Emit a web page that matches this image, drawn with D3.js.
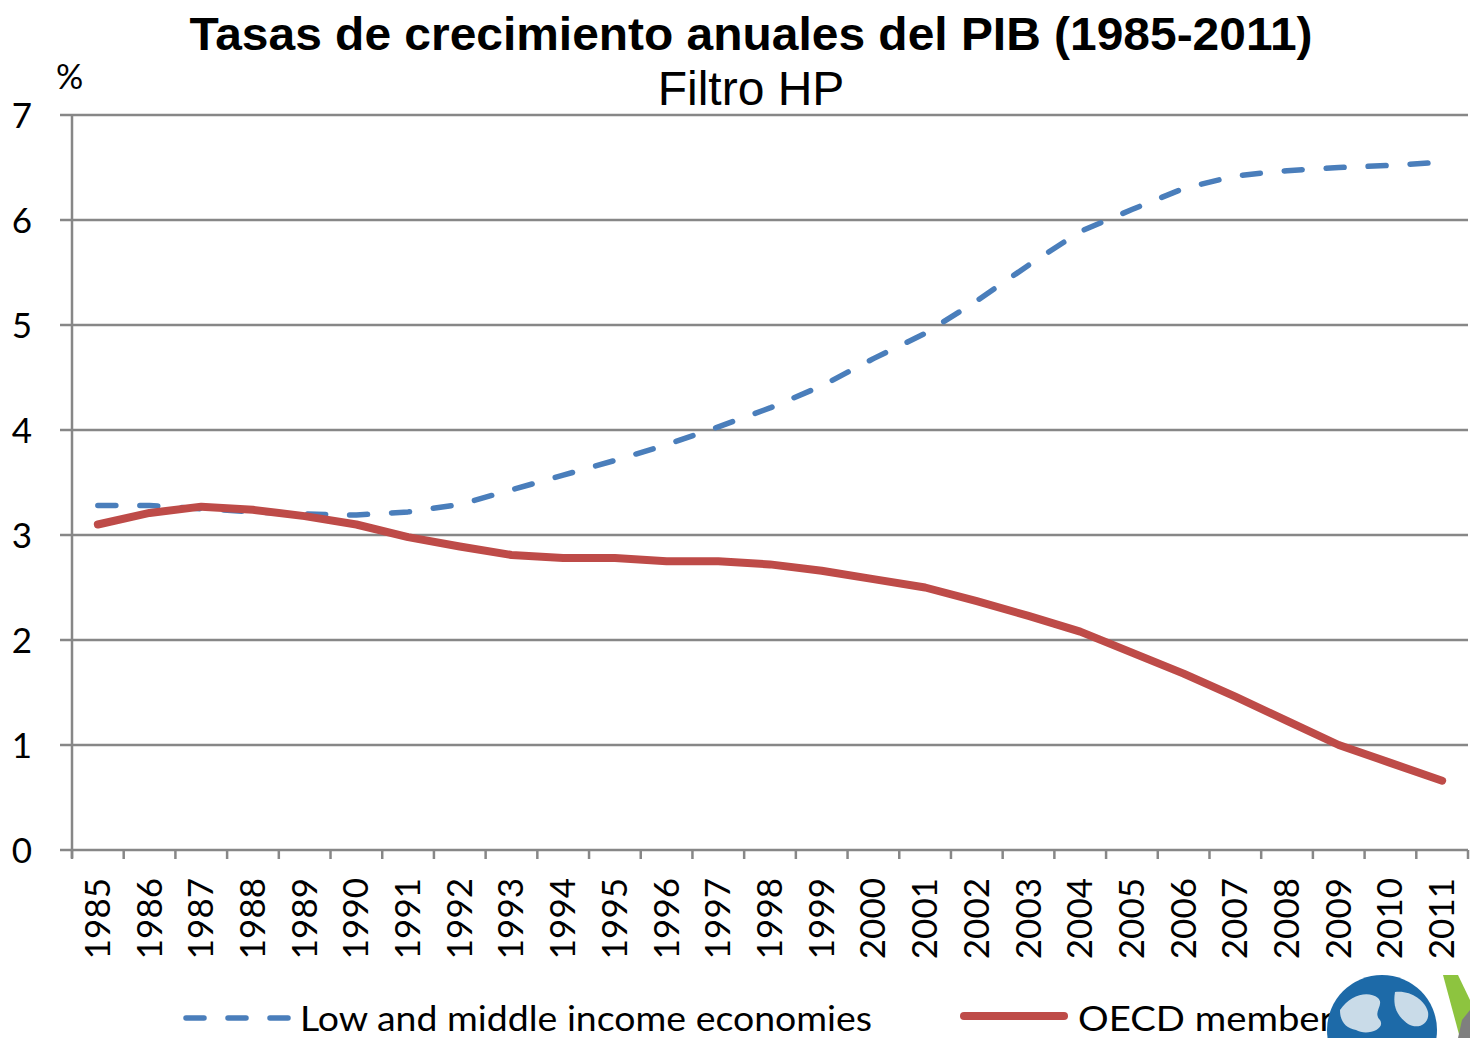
<!DOCTYPE html>
<html>
<head>
<meta charset="utf-8">
<script src="https://cdn.jsdelivr.net/npm/d3@7"></script>
<style>
  html, body { margin: 0; padding: 0; background: #ffffff; }
  svg { display: block; }
</style>
</head>
<body>
<svg id="chart" width="1470" height="1038"></svg>
<script>
const years = ["1985","1986","1987","1988","1989","1990","1991","1992","1993","1994","1995","1996","1997","1998","1999","2000","2001","2002","2003","2004","2005","2006","2007","2008","2009","2010","2011"];
const lowMiddle = [3.28,3.28,3.25,3.22,3.20,3.19,3.22,3.29,3.43,3.57,3.71,3.86,4.03,4.21,4.42,4.68,4.92,5.23,5.57,5.89,6.10,6.30,6.42,6.47,6.50,6.52,6.55];
const oecd = [3.10,3.21,3.27,3.24,3.18,3.10,2.98,2.89,2.81,2.78,2.78,2.75,2.75,2.72,2.66,2.58,2.50,2.37,2.23,2.08,1.88,1.68,1.46,1.23,1.00,0.83,0.66];
const yTicks = [0,1,2,3,4,5,6,7];
const seriesNames = ["Low and middle income economies", "OECD members"];
const titleText = "Tasas de crecimiento anuales del PIB (1985-2011)";
const subtitleText = "Filtro HP";
const unitText = "%";

(function () {
const svg = d3.select("#chart");
const mLeft = 72, mRight = 1468, mTop = 115, mBottom = 850;

const x = d3.scaleBand().domain(years).range([mLeft, mRight]).padding(0);
const y = d3.scaleLinear().domain([0, 7]).range([mBottom, mTop]);
const cx = d => x(d) + x.bandwidth() / 2;

const gridColor = "#878787";

// Gridlines
svg.append("g").selectAll("line").data(yTicks).join("line")
  .attr("x1", mLeft - 12).attr("x2", mRight)
  .attr("y1", d => y(d)).attr("y2", d => y(d))
  .attr("stroke", gridColor).attr("stroke-width", 2.5);

// Y axis line
svg.append("line").attr("x1", mLeft).attr("x2", mLeft)
  .attr("y1", mTop).attr("y2", mBottom + 8)
  .attr("stroke", gridColor).attr("stroke-width", 2.5);

// Y axis labels via d3 axis
const yAxis = svg.append("g").attr("transform", `translate(${mLeft - 12},0)`)
  .call(d3.axisLeft(y).tickValues(yTicks).tickSize(0).tickPadding(28).tickFormat(d3.format("d")));
yAxis.select(".domain").remove();
yAxis.selectAll("text").attr("font-family", "Lato, 'Open Sans', sans-serif")
  .attr("font-size", 35).attr("fill", "#000").attr("dy", "0.36em");

// X tick marks at band boundaries
const boundaries = years.map(d => x(d)).concat([mRight]);
svg.append("g").selectAll("line").data(boundaries).join("line")
  .attr("x1", d => d).attr("x2", d => d)
  .attr("y1", mBottom).attr("y2", mBottom + 9)
  .attr("stroke", gridColor).attr("stroke-width", 2.5);

// X labels rotated
svg.append("g").selectAll("text").data(years).join("text")
  .attr("transform", d => `translate(${cx(d) + 12},${mBottom + 28}) rotate(-90)`)
  .attr("text-anchor", "end")
  .attr("font-family", "Lato, 'Open Sans', sans-serif")
  .attr("font-size", 35).attr("fill", "#000")
  .text(d => d);

// Lines
const line = d3.line().x((d, i) => cx(years[i])).y(d => y(d)).curve(d3.curveLinear);

svg.append("path").datum(lowMiddle)
  .attr("d", line).attr("fill", "none")
  .attr("stroke", "#4a7ebb").attr("stroke-width", 5.5)
  .attr("stroke-dasharray", "18,24").attr("stroke-linecap", "round")
  .attr("stroke-linejoin", "round");

svg.append("path").datum(oecd)
  .attr("d", line).attr("fill", "none")
  .attr("stroke", "#be4b48").attr("stroke-width", 8)
  .attr("stroke-linecap", "round").attr("stroke-linejoin", "round");

// Title
svg.append("text").attr("x", 751).attr("y", 50)
  .attr("text-anchor", "middle")
  .attr("font-family", "'Liberation Sans', Arial, sans-serif")
  .attr("font-weight", "bold").attr("font-size", 47)
  .attr("textLength", 1123).attr("lengthAdjust", "spacingAndGlyphs")
  .text(titleText);

svg.append("text").attr("x", 751).attr("y", 105)
  .attr("text-anchor", "middle")
  .attr("font-family", "'Liberation Sans', Arial, sans-serif")
  .attr("font-size", 48)
  .text(subtitleText);

svg.append("text").attr("x", 56).attr("y", 89)
  .attr("font-family", "Lato, 'Open Sans', sans-serif")
  .attr("font-size", 34)
  .text(unitText);

// Legend
const legY = 1018;
svg.append("line").attr("x1", 186).attr("x2", 290).attr("y1", legY).attr("y2", legY)
  .attr("stroke", "#4a7ebb").attr("stroke-width", 5.5)
  .attr("stroke-dasharray", "18,24").attr("stroke-linecap", "round");
svg.append("text").attr("x", 300).attr("y", 1031)
  .attr("font-family", "Lato, 'Open Sans', sans-serif")
  .attr("font-size", 35)
  .attr("textLength", 572).attr("lengthAdjust", "spacingAndGlyphs")
  .text(seriesNames[0]);

svg.append("line").attr("x1", 964).attr("x2", 1064).attr("y1", 1016).attr("y2", 1016)
  .attr("stroke", "#be4b48").attr("stroke-width", 8).attr("stroke-linecap", "round");
svg.append("text").attr("x", 1078).attr("y", 1031)
  .attr("font-family", "Lato, 'Open Sans', sans-serif")
  .attr("font-size", 35)
  .attr("textLength", 272).attr("lengthAdjust", "spacingAndGlyphs")
  .text(seriesNames[1]);

// Decorative logo (globe + chevron), clipped at bottom edge
const logo = svg.append("g");
logo.append("circle").attr("cx", 1382).attr("cy", 1030).attr("r", 55).attr("fill", "#1d6aa8");
logo.append("path")
  .attr("d", "M1340,1010 C1350,995 1368,990 1378,998 C1385,1005 1372,1012 1380,1020 C1386,1030 1366,1036 1356,1030 C1346,1028 1340,1022 1340,1010 Z")
  .attr("fill", "#c9dbe8");
logo.append("path")
  .attr("d", "M1395,992 C1410,990 1425,1000 1428,1012 C1430,1024 1418,1030 1408,1024 C1400,1018 1392,1010 1395,992 Z")
  .attr("fill", "#c9dbe8");
logo.append("path")
  .attr("d", "M1443,975 L1458,975 L1470,1000 L1470,1038 L1460,1038 Z")
  .attr("fill", "#8dc43f");
logo.append("path")
  .attr("d", "M1462,1020 L1470,1010 L1470,1038 L1458,1038 Z")
  .attr("fill", "#7f7f7f");
})();
</script>
</body>
</html>
